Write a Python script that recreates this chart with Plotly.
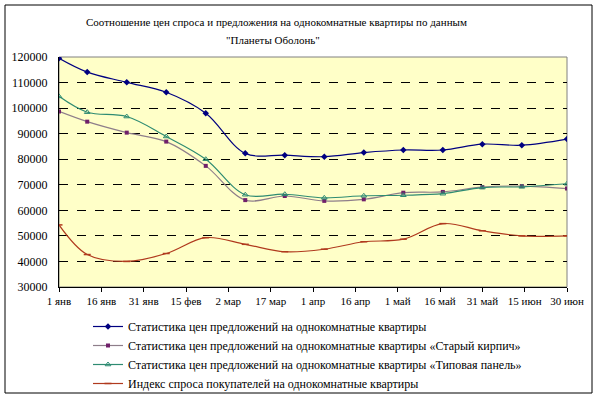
import plotly.graph_objects as go

dates = ["2009-01-01", "2009-01-11", "2009-01-25", "2009-02-08", "2009-02-22",
         "2009-03-08", "2009-03-22", "2009-04-05", "2009-04-19", "2009-05-03",
         "2009-05-17", "2009-05-31", "2009-06-14", "2009-06-30"]

offer_all = [119500, 114100, 110100, 106200, 98000, 82300, 81600, 81000,
             82600, 83600, 83600, 85900, 85500, 87900]
offer_brick = [98700, 94700, 90400, 86900, 77400, 64000, 65600, 63700,
               64300, 66900, 67200, 69100, 69500, 68500]
offer_panel = [104600, 98400, 96700, 88900, 80000, 66100, 66300, 64900,
               65700, 65900, 66500, 68900, 69200, 70400]
demand_index = [54300, 42700, 40000, 43100, 49300, 46700, 43800, 44800,
                47700, 48700, 54800, 52000, 50000, 50000]

tick_dates = ["2009-01-01", "2009-01-16", "2009-01-31", "2009-02-15", "2009-03-02",
              "2009-03-17", "2009-04-01", "2009-04-16", "2009-05-01", "2009-05-16",
              "2009-05-31", "2009-06-15", "2009-06-30"]
tick_text = ["1 янв", "16 янв", "31 янв", "15 фев", "2 мар", "17 мар", "1 апр",
             "16 апр", "1 май", "16 май", "31 май", "15 июн", "30 июн"]

names = [
    "Статистика цен предложений на однокомнатные квартиры",
    "Статистика цен предложений на однокомнатные квартиры «Старый кирпич»",
    "Статистика цен предложений на однокомнатные квартиры «Типовая панель»",
    "Индекс спроса покупателей на однокомнатные квартиры",
]

FONT = "Liberation Serif"

fig = go.Figure()
fig.add_trace(go.Scatter(
    x=dates, y=offer_all, name=names[0], mode="lines+markers",
    line=dict(color="#000080", width=1.2, shape="spline", smoothing=1),
    marker=dict(symbol="diamond", size=5, color="#000080")))
fig.add_trace(go.Scatter(
    x=dates, y=offer_brick, name=names[1], mode="lines+markers",
    line=dict(color="#8E7E8A", width=1.2, shape="spline", smoothing=1),
    marker=dict(symbol="square", size=4, color="#70206A")))
fig.add_trace(go.Scatter(
    x=dates, y=offer_panel, name=names[2], mode="lines+markers",
    line=dict(color="#2E8B72", width=1.2, shape="spline", smoothing=1),
    marker=dict(symbol="triangle-up-open", size=5, color="#2E8B72", line=dict(width=1))))
fig.add_trace(go.Scatter(
    x=dates, y=demand_index, name=names[3], mode="lines+markers",
    line=dict(color="#B03A1E", width=1.2, shape="spline", smoothing=1),
    marker=dict(symbol="line-ew", size=5, color="#B03A1E", line=dict(width=1.5, color="#B03A1E"))))

PL, PR, PT, PB = 59, 567, 57, 287
W, H = 600, 399
pw, ph = PR - PL, PB - PT

def px(x):
    return (x - PL) / pw

def py(y):
    return (PB - y) / ph

fig.update_layout(
    template="none",
    width=W, height=H,
    margin=dict(l=PL, r=W - PR, t=PT, b=H - PB, pad=0, autoexpand=False),
    paper_bgcolor="white",
    plot_bgcolor="#FFFFC8",
    font=dict(family=FONT, size=12, color="black"),
    showlegend=True,
    legend=dict(
        xref="container", yref="container",
        x=88 / W, y=1 - 312 / H, xanchor="left", yanchor="top",
        font=dict(family=FONT, size=12, color="black"),
        bgcolor="rgba(0,0,0,0)", borderwidth=0, itemwidth=30, tracegroupgap=0,
    ),
    shapes=[
        dict(type="rect", xref="paper", yref="paper", x0=0, x1=1, y0=0, y1=1,
             line=dict(color="#808080", width=1), layer="below"),
        dict(type="rect", xref="paper", yref="paper", x0=px(5), x1=px(592),
             y0=py(393), y1=py(5), line=dict(color="black", width=1)),
    ],
    annotations=[
        dict(text="Соотношение цен спроса и предложения на однокомнатные квартиры по данным",
             xref="paper", yref="paper", x=px(276), y=py(22), xanchor="center", yanchor="middle",
             showarrow=False, font=dict(family=FONT, size=11)),
        dict(text="\"Планеты Оболонь\"",
             xref="paper", yref="paper", x=px(273), y=py(40), xanchor="center", yanchor="middle",
             showarrow=False, font=dict(family=FONT, size=11)),
    ],
)

fig.update_xaxes(
    automargin=False,
    range=["2009-01-01", "2009-06-30"],
    tickmode="array", tickvals=tick_dates, ticktext=tick_text,
    ticks="outside", ticklen=4, tickcolor="black",
    showline=True, linecolor="black", linewidth=1, mirror=False,
    showgrid=False, zeroline=False,
    tickfont=dict(family=FONT, size=11, color="black"),
)
fig.update_yaxes(
    automargin=False,
    range=[30000, 120000], dtick=10000, tick0=30000, tickformat="d",
    showline=True, linecolor="black", linewidth=1, mirror=False,
    showgrid=True, gridcolor="black", gridwidth=1, griddash="dash",
    zeroline=False, ticks="", ticklabelstandoff=8,
    tickfont=dict(family=FONT, size=12, color="black"),
)

fig.write_html("out.html", config={"displayModeBar": False},
               post_script="document.body.style.margin='0px';")
